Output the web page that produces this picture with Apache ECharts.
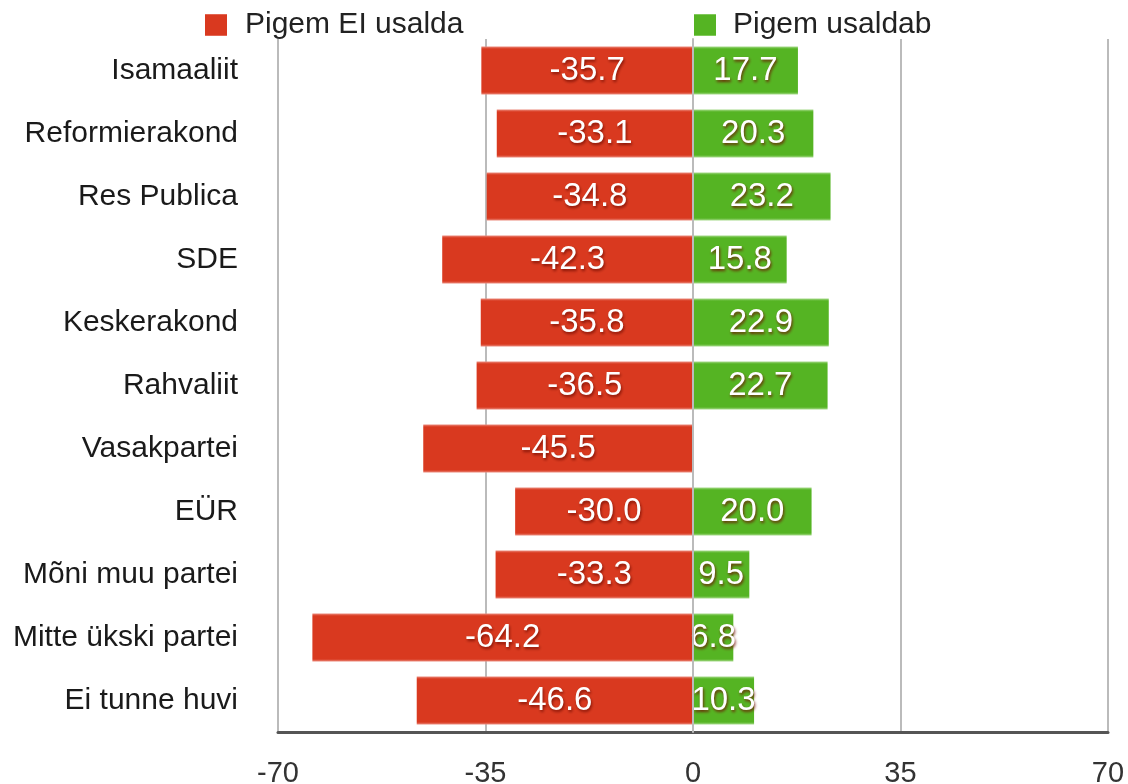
<!DOCTYPE html>
<html>
<head>
<meta charset="utf-8">
<script src="https://cdn.jsdelivr.net/npm/echarts@6/dist/echarts.min.js"></script>
<style>
  html, body { margin: 0; padding: 0; background: #fff; }
  #chart { width: 1128px; height: 784px; }
</style>
</head>
<body>
<div id="chart"></div>
<script>
  // kategooriad ülevalt alla
  var categories = ['Isamaaliit', 'Reformierakond', 'Res Publica', 'SDE', 'Keskerakond', 'Rahvaliit',
    'Vasakpartei', 'EÜR', 'Mõni muu partei', 'Mitte ükski partei', 'Ei tunne huvi'];
  var eiUsalda = [-35.7, -33.1, -34.8, -42.3, -35.8, -36.5, -45.5, -30.0, -33.3, -64.2, -46.6];
  var usaldab = [17.7, 20.3, 23.2, 15.8, 22.9, 22.7, null, 20.0, 9.5, 6.8, 10.3];
  var xTicks = [-70, -35, 0, 35, 70];

  var fontFamily = '"Liberation Sans", Arial, sans-serif';

  function barColor(main, edge) {
    return new echarts.graphic.LinearGradient(0, 0, 0, 1, [
      { offset: 0, color: edge },
      { offset: 0.05, color: main },
      { offset: 0.95, color: main },
      { offset: 1, color: edge }
    ]);
  }

  var valueLabel = {
    show: true,
    position: 'inside',
    color: '#fff',
    fontSize: 33,
    fontFamily: fontFamily,
    textShadowColor: 'rgba(110,10,0,0.8)',
    textShadowBlur: 3,
    textShadowOffsetX: 1,
    textShadowOffsetY: 2,
    formatter: function (p) {
      return p.value == null ? '' : p.value.toFixed(1);
    }
  };

  var chart = echarts.init(document.getElementById('chart'));
  chart.setOption({
    animation: false,
    textStyle: { fontFamily: fontFamily },
    legend: [{
      left: 200,
      top: 5,
      itemWidth: 22,
      itemHeight: 22,
      icon: 'rect',
      data: ['Pigem EI usalda'],
      textStyle: { fontSize: 30, color: '#222', padding: [0, 0, 0, 13] }
    }, {
      left: 689,
      top: 5,
      itemWidth: 22,
      itemHeight: 22,
      icon: 'rect',
      data: ['Pigem usaldab'],
      textStyle: { fontSize: 30, color: '#222', padding: [0, 0, 0, 12] }
    }],
    grid: {
      left: 278,
      right: 20,
      top: 39,
      bottom: 52,
      outerBoundsMode: 'none'
    },
    xAxis: {
      type: 'value',
      min: -70,
      max: 70,
      interval: 35,
      axisLine: { show: true, onZero: false, lineStyle: { color: '#555', width: 3 } },
      axisTick: { show: false },
      splitLine: { show: true, lineStyle: { color: '#bbb', width: 2 } },
      axisLabel: {
        fontSize: 29,
        color: '#333',
        margin: 27,
        formatter: function (v) {
          return xTicks.indexOf(v) >= 0 ? String(v) : '';
        }
      }
    },
    yAxis: {
      type: 'category',
      inverse: true,
      data: categories,
      z: 5,
      axisLine: { show: true, onZero: true, lineStyle: { color: '#bbb', width: 2 } },
      axisTick: { show: false },
      splitLine: { show: false },
      axisLabel: { fontSize: 30, color: '#1a1a1a', margin: 40 }
    },
    series: [{
      name: 'Pigem EI usalda',
      type: 'bar',
      stack: 'kokku',
      barWidth: 48,
      color: '#d9391f',
      itemStyle: { color: barColor('#d9391f', '#eb8a7c') },
      label: valueLabel,
      data: eiUsalda
    }, {
      name: 'Pigem usaldab',
      type: 'bar',
      stack: 'kokku',
      barWidth: 48,
      color: '#55b423',
      itemStyle: { color: barColor('#55b423', '#a6da8a') },
      label: valueLabel,
      data: usaldab
    }]
  });
</script>
</body>
</html>
